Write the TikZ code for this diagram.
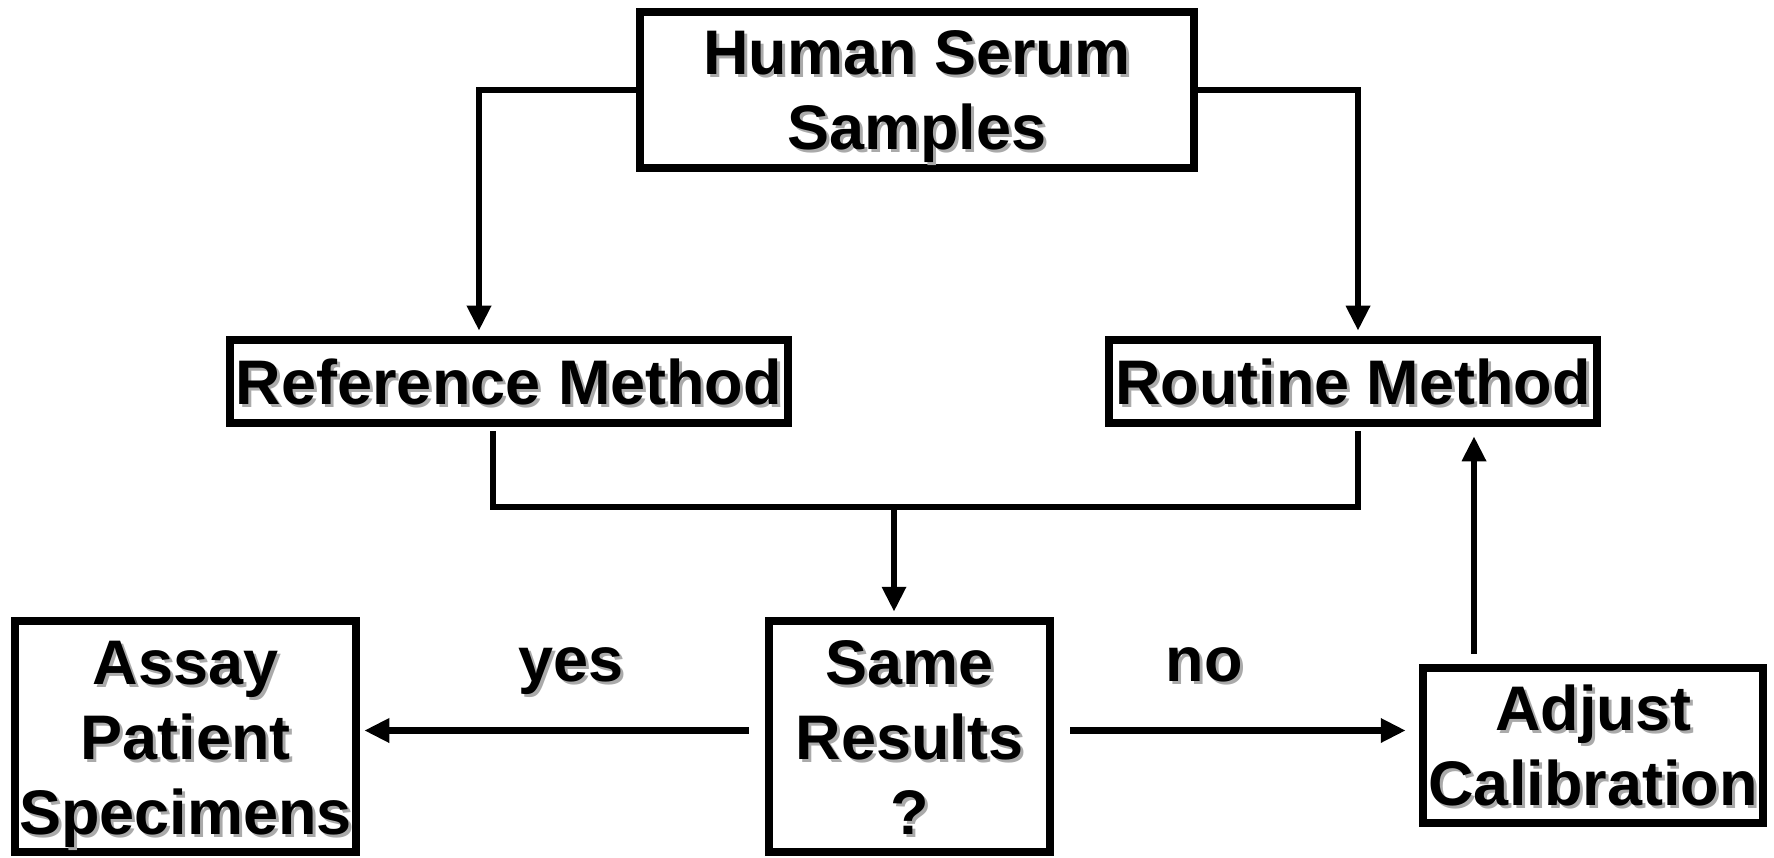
\documentclass[tikz,border=0pt]{standalone}
\usepackage{fontspec}
\setmainfont{Liberation Sans}
\usetikzlibrary{arrows.meta}
\definecolor{shadowgray}{RGB}{170,170,170}
\newcommand\sh[1]{\rlap{\hspace{3pt}\raisebox{-3pt}{\textcolor{shadowgray}{#1}}}#1}
\begin{document}
\begin{tikzpicture}[x=1pt,y=-1pt,
  box/.style={draw, line width=8.5pt, inner sep=0pt, align=center,
    font=\bfseries\fontsize{63}{75}\selectfont, text depth=0pt},
  one/.style={text height=45pt},
  two/.style={text height=120pt},
  three/.style={text height=195pt},
  lbl/.style={inner sep=0pt, font=\bfseries\fontsize{63}{75}\selectfont, text height=33pt, text depth=0pt},
  conn/.style={line width=6.5pt},
  arrow/.style={conn, -{Triangle[length=25pt,width=23pt]}}
]
\useasboundingbox (0,0) rectangle (1774,858);

\node[box,two,minimum width=554pt,minimum height=156pt] (top) at (917,90) {\sh{Human Serum}\\\sh{Samples}};
\node[box,one,minimum width=558pt,minimum height=83pt] (ref) at (509,381.5) {\sh{Reference Method}};
\node[box,one,minimum width=488pt,minimum height=83pt] (rout) at (1353,381.5) {\sh{Routine Method}};
\node[box,three,minimum width=281pt,minimum height=231pt] (same) at (909.5,736.5) {\sh{Same}\\\sh{Results}\\\sh{?}};
\node[box,three,minimum width=341pt,minimum height=231pt] (assay) at (185.5,736.5) {\sh{Assay}\\\sh{Patient}\\\sh{Specimens}};
\node[box,two,minimum width=340pt,minimum height=155pt] (adj) at (1593,745.5) {\sh{Adjust}\\\sh{Calibration}};

\node[lbl] (yes) at (571,665) {\sh{yes}};
\node[lbl] (no) at (1204,665) {\sh{no}};

\draw[arrow, shorten >=5pt] (top.west) -| ([xshift=-30pt]ref.north);
\draw[arrow, shorten >=5pt] (top.east) -| ([xshift=5pt]rout.north);

\coordinate (j) at (894,507);
\draw[conn, shorten <=4pt, shorten >=4pt] ([xshift=-16pt]ref.south) |- (j) -| ([xshift=5pt]rout.south);
\draw[arrow, shorten >=5pt] (j) -- (j |- same.north);

\coordinate (yl) at ([yshift=6pt]same.west);
\draw[arrow, shorten <=16pt, shorten >=4pt] (yl) -- (yl -| assay.east);
\coordinate (nl) at ([yshift=6pt]same.east);
\draw[arrow, shorten <=16pt, shorten >=13pt] (nl) -- (nl -| adj.west);

\coordinate (ua) at ([xshift=-119pt]adj.north);
\draw[arrow, shorten <=10pt, shorten >=9pt] (ua) -- (ua |- rout.south);
\end{tikzpicture}
\end{document}
